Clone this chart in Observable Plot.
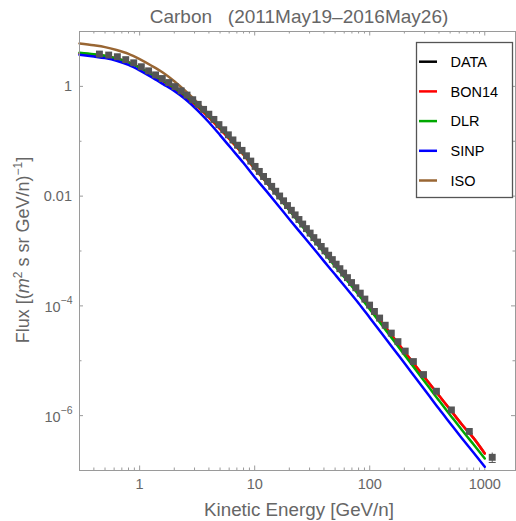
<!DOCTYPE html>
<html><head><meta charset="utf-8">
<script src="https://cdn.jsdelivr.net/npm/d3@7"></script>
<script src="https://cdn.jsdelivr.net/npm/@observablehq/plot@0.6"></script>
<style>
body{margin:0;background:#fff;}
#chart{width:516px;height:521px;}
</style></head><body><div id="chart"></div>
<script>
// ---- data (GeV/n, flux in (m^2 s sr GeV/n)^-1) ----
const energyGrid = [0.3, 0.4, 0.5, 0.63, 0.8, 1, 1.26, 1.6, 2, 2.5, 3.2, 4, 5, 6.3, 8, 10, 12.6, 16, 20, 25, 32, 40, 50, 63, 80, 100, 126, 160, 200, 250, 320, 400, 500, 630, 800, 1000];
const fluxBON14 = [3.94, 3.76, 3.59, 3.24, 2.75, 2.20, 1.66, 1.23, 0.906, 0.646, 0.421, 0.270, 0.167, 0.0993, 0.0566, 0.0318, 0.0180, 9.89e-3, 5.62e-3, 3.21e-3, 1.73e-3, 9.89e-4, 5.65e-4, 3.18e-4, 1.75e-4, 9.55e-5, 5.13e-5, 2.69e-5, 1.47e-5, 8.07e-6, 4.18e-6, 2.32e-6, 1.29e-6, 6.97e-7, 3.89e-7, 2.04e-7];
const fluxDLR = [4.12, 3.87, 3.63, 3.22, 2.74, 2.20, 1.69, 1.27, 0.948, 0.684, 0.447, 0.289, 0.179, 0.105, 0.0593, 0.0331, 0.0184, 9.89e-3, 5.53e-3, 3.09e-3, 1.65e-3, 9.38e-4, 5.31e-4, 2.96e-4, 1.60e-4, 8.71e-5, 4.62e-5, 2.39e-5, 1.29e-5, 6.92e-6, 3.50e-6, 1.88e-6, 1.03e-6, 5.53e-7, 2.97e-7, 1.66e-7];
const fluxSINP = [3.76, 3.49, 3.27, 2.94, 2.47, 1.96, 1.49, 1.10, 0.826, 0.582, 0.363, 0.222, 0.1294, 0.0728, 0.0401, 0.0221, 0.01245, 6.76e-3, 3.80e-3, 2.16e-3, 1.16e-3, 6.53e-4, 3.72e-4, 2.07e-4, 1.12e-4, 6.10e-5, 3.24e-5, 1.68e-5, 9.06e-6, 4.90e-6, 2.48e-6, 1.33e-6, 7.29e-7, 3.92e-7, 2.10e-7, 1.17e-7];
const fluxISO = [6.05, 5.60, 5.19, 4.60, 3.92, 3.14, 2.40, 1.77, 1.24, 0.822, 0.501, 0.309, 0.182, 0.0993, 0.0566, 0.0318, 0.0180, 9.89e-3, 5.62e-3, 3.21e-3, 1.73e-3, 9.89e-4, 5.65e-4, 3.18e-4, 1.75e-4, 9.55e-5, 5.13e-5, 2.69e-5, 1.47e-5, 8.07e-6, 4.18e-6, 2.32e-6, 1.29e-6, 6.97e-7, 3.89e-7, 2.04e-7];

const dataE = [0.447, 0.538, 0.640, 0.757, 0.888, 1.034, 1.196, 1.375, 1.573, 1.793, 2.033, 2.295, 2.581, 2.893, 3.230, 3.596, 3.993, 4.420, 4.889, 5.383, 5.903, 6.470, 7.091, 7.761, 8.482, 9.25, 10.08, 10.97, 11.94, 12.96, 14.06, 15.23, 16.48, 17.83, 19.28, 20.83, 22.47, 24.25, 26.14, 28.16, 30.34, 32.68, 35.21, 37.90, 40.80, 43.93, 47.30, 51.04, 55.04, 59.29, 64.03, 69.52, 75.76, 82.75, 90.73, 99.7, 109.9, 121.9, 136.3, 154.0, 175.9, 203.5, 239.7, 293.4, 380.1, 512.9, 733.9, 1161];
const dataFlux = [3.88, 3.72, 3.47, 3.07, 2.69, 2.28, 1.92, 1.62, 1.39, 1.175, 0.991, 0.830, 0.694, 0.571, 0.470, 0.381, 0.311, 0.250, 0.201, 0.162, 0.131, 0.1057, 0.0847, 0.0682, 0.0544, 0.0435, 0.0348, 0.0282, 0.0228, 0.01854, 0.01507, 0.01228, 0.01005, 0.00822, 0.00673, 0.00552, 0.00455, 0.00375, 0.00310, 0.00256, 0.00212, 0.001754, 0.001456, 0.001211, 0.001007, 0.000838, 0.000697, 0.000575, 0.000476, 0.000396, 0.000327, 0.000266, 0.000214, 0.0001706, 0.000133, 0.0001033, 7.92e-5, 6.00e-5, 4.44e-5, 3.19e-5, 2.23e-5, 1.50e-5, 9.66e-6, 5.60e-6, 2.78e-6, 1.27e-6, 5.15e-7, 1.74e-7];
const errE = [733.9, 1161];
const errLo = [4.75e-7, 1.40e-7];
const errHi = [5.55e-7, 2.08e-7];

const legendNames = ["DATA", "BON14", "DLR", "SINP", "ISO"];
const legendColors = ["#000000", "#ff0000", "#00a800", "#0000ff", "#996633"];

const xMajor = [1, 10, 100, 1000];
const xMajorLabels = ["1", "10", "100", "1000"];
const xMinor = [0.3,0.4,0.5,0.6,0.7,0.8,0.9, 2,3,4,5,6,7,8,9, 20,30,40,50,60,70,80,90, 200,300,400,500,600,700,800,900];
const yLabeled = [1, 0.01, 1e-4, 1e-6];
const yLabelBase = ["1", "0.01", "10", "10"];
const yLabelExp = ["", "", "\u22124", "\u22126"];
const yUnlabeled = [0.1, 1e-3, 1e-5];

const title = "Carbon   (2011May19\u20132016May26)";
const xTitle = "Kinetic Energy [GeV/n]";

// ---- build tables ----
const curveDefs = [
  {name: "ISO", color: "#996633", values: fluxISO},
  {name: "BON14", color: "#ff0000", values: fluxBON14},
  {name: "DLR", color: "#00a800", values: fluxDLR},
  {name: "SINP", color: "#0000ff", values: fluxSINP}
];
const dataRows = dataE.map((E, i) => ({E, F: dataFlux[i]}));
const errRows = errE.map((E, i) => ({E, lo: errLo[i], hi: errHi[i]}));

const frameColor = "#9a9a9a";
const textColor = "#666666";
const capSymbol = {draw(ctx, size) { ctx.moveTo(-3.5, 0); ctx.lineTo(3.5, 0); }};

const plot = Plot.plot({
  width: 516, height: 521,
  marginTop: 31, marginBottom: 51, marginLeft: 79, marginRight: 1,
  style: {background: "#fff", fontFamily: "'Liberation Sans', Arial, sans-serif"},
  x: {type: "log", domain: [0.3, 1850], label: null},
  y: {type: "log", domain: [1e-7, 10], label: null, axis: null},
  marks: [
    Plot.tickX(xMajor, {x: d => d, insetTop: 434.5, stroke: frameColor}),
    Plot.tickX(xMinor, {x: d => d, insetTop: 436.5, stroke: frameColor}),
    Plot.tickX(xMajor, {x: d => d, insetBottom: 434.5, stroke: frameColor}),
    Plot.tickX(xMinor, {x: d => d, insetBottom: 436.5, stroke: frameColor}),
    Plot.tickY(yLabeled, {y: d => d, insetRight: 432, stroke: frameColor}),
    Plot.tickY(yUnlabeled, {y: d => d, insetRight: 433.5, stroke: frameColor}),
    Plot.tickY(yLabeled, {y: d => d, insetLeft: 432, stroke: frameColor}),
    Plot.tickY(yUnlabeled, {y: d => d, insetLeft: 433.5, stroke: frameColor}),
    ...curveDefs.map(c => Plot.line(energyGrid.map((E, i) => ({E, F: c.values[i]})),
      {x: "E", y: "F", stroke: c.color, strokeWidth: 2.5, curve: "monotone-x"})),
    Plot.ruleX(errRows, {x: "E", y1: "lo", y2: "hi", stroke: "#555", strokeWidth: 1}),
    Plot.dot(errRows, {x: "E", y: "lo", symbol: capSymbol, fill: "none", stroke: "#555", strokeWidth: 1}),
    Plot.dot(dataRows, {x: "E", y: "F", symbol: "square", r: 3.9, fill: "#555555"}),
    Plot.axisX({ticks: xMajor, tickFormat: d => xMajorLabels[xMajor.indexOf(d)], tickSize: 0, tickPadding: 8, fontSize: 14.5, color: textColor, label: null}),
    Plot.frame({stroke: frameColor})
  ]
});

document.getElementById("chart").appendChild(plot);

const svg = d3.select(plot);
const ys = plot.scale("y");
const font = "'Liberation Sans', Arial, sans-serif";

// y tick labels
const gy = svg.append("g").attr("font-family", font).attr("fill", textColor).attr("text-anchor", "end");
yLabeled.forEach((v, i) => {
  const yy = ys.apply(v);
  if (yLabelExp[i]) {
    const t = gy.append("text").attr("x", 72.5).attr("y", yy + 6.5).attr("font-size", 14.5);
    t.append("tspan").text(yLabelBase[i]);
    t.append("tspan").attr("font-size", 10.5).attr("dy", -7.5).text(yLabelExp[i]);
  } else {
    gy.append("text").attr("x", 72).attr("y", yy).attr("dy", "0.36em").attr("font-size", 14.5).text(yLabelBase[i]);
  }
});

// title
svg.append("text").attr("x", 299).attr("y", 23).attr("text-anchor", "middle")
  .attr("font-family", font).attr("font-size", 19).attr("fill", textColor)
  .style("white-space", "pre").text(title);

// x axis title
svg.append("text").attr("x", 299).attr("y", 516).attr("text-anchor", "middle")
  .attr("font-family", font).attr("font-size", 18.8).attr("fill", textColor).text(xTitle);

// y axis title
const yt = svg.append("text").attr("transform", "translate(29,250) rotate(-90)")
  .attr("text-anchor", "middle").attr("font-family", font).attr("font-size", 18).attr("fill", textColor);
yt.append("tspan").text("Flux [(");
yt.append("tspan").attr("font-style", "italic").text("m");
yt.append("tspan").attr("font-size", 12).attr("dy", -7).text("2");
yt.append("tspan").attr("dy", 7).text(" s sr GeV/n)");
yt.append("tspan").attr("font-size", 12).attr("dy", -7).text("\u22121");
yt.append("tspan").attr("dy", 7).text("]");

// legend
const lg = svg.append("g").attr("font-family", font).attr("text-anchor", "start");
lg.append("rect").attr("x", 416.5).attr("y", 42.5).attr("width", 96).attr("height", 155)
  .attr("fill", "#fff").attr("stroke", "#555").attr("stroke-width", 1.3);
legendNames.forEach((n, i) => {
  const cy = 61.7 + i * 29.7;
  lg.append("line").attr("x1", 419).attr("x2", 437).attr("y1", cy).attr("y2", cy)
    .attr("stroke", legendColors[i]).attr("stroke-width", 2.5);
  lg.append("text").attr("x", 450.5).attr("y", cy + 5.2).attr("font-size", 14.5).attr("fill", "#000").text(n);
});
</script>
</body></html>
